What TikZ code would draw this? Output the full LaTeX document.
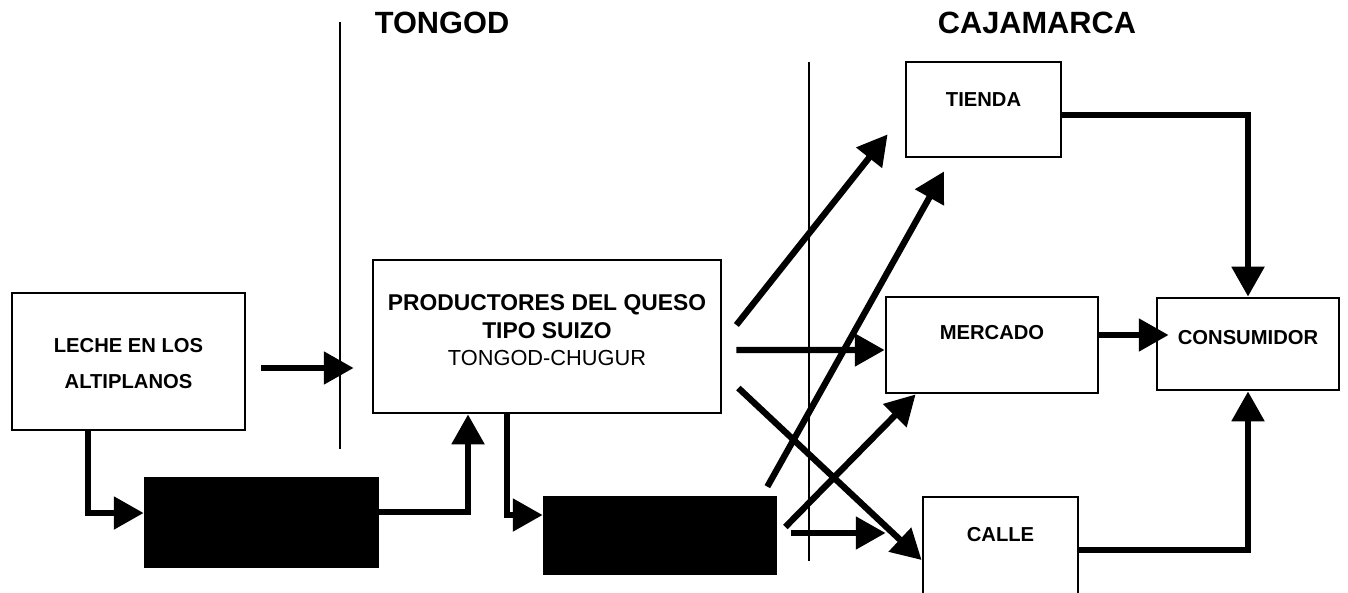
\documentclass[tikz,border=0pt]{standalone}
\usepackage{fontspec}
\setmainfont{Liberation Sans}
\usetikzlibrary{arrows.meta}
\tikzset{
caja/.style={draw,line width=1.6pt,inner sep=0pt},
negro/.style={draw,fill=black,inner sep=0pt},
rotulo/.style={font=\bfseries\fontsize{11.5}{21}\selectfont,align=center,inner sep=0pt},
titulo/.style={font=\bfseries\fontsize{17.5}{20}\selectfont,inner sep=0pt},
flecha/.style={line width=3.6pt,-{Triangle[length=17pt,width=18pt]}},
limite/.style={line width=1.3pt}
}
\begin{document}
\begin{tikzpicture}[x=0.02cm,y=-0.02cm]
\clip(0,0)rectangle(1348,592);
%
\node[titulo](ttongod)at(442,23){TONGOD};
\node[titulo](tcaja)at(1037,23){CAJAMARCA};
\draw[limite](340,22)--(340,449);
\draw[limite](809,62)--(809,561);
%
\node[caja,minimum width=4.66cm,minimum height=2.74cm](leche)at(128.5,361.5){};
\node[rotulo](tleche)at(128.5,363.5){LECHE EN LOS\\ALTIPLANOS};
\node[caja,minimum width=6.96cm,minimum height=3.06cm](prod)at(547,336.5){};
\node[rotulo,font=\bfseries\fontsize{13}{15.6}\selectfont](tprod)at(547,330.5){PRODUCTORES DEL QUESO\\TIPO SUIZO\\\mdseries\fontsize{12.4}{15.6}\selectfont TONGOD-CHUGUR};
\node[negro,minimum width=4.68cm,minimum height=1.8cm](negro1)at(261,522){};
\node[negro,minimum width=4.66cm,minimum height=1.56cm](negro2)at(659.5,535){};
\node[caja,minimum width=3.1cm,minimum height=1.9cm](tienda)at(983.5,109.5){};
\node[rotulo](ttienda)at(983.5,100){TIENDA};
\node[caja,minimum width=4.24cm,minimum height=1.92cm](mercado)at(992,345){};
\node[rotulo](tmercado)at(992,333){MERCADO};
\node[caja,minimum width=3.64cm,minimum height=1.84cm](consumidor)at(1248,344){};
\node[rotulo](tconsumidor)at(1248,338){CONSUMIDOR};
\node[caja,minimum width=3.1cm,minimum height=2.06cm](calle)at(1000.5,548.5){};
\node[rotulo](tcalle)at(1000.5,535){CALLE};
%
\coordinate(l1)at([yshift=-0.13cm]leche.east);
\draw[flecha,shorten <=0.3cm,shorten >=0.36cm](l1)--(l1-|prod.west);
\draw[flecha]([xshift=-0.81cm]leche.south)|-([yshift=0.18cm]negro1.west);
\draw[flecha]([yshift=0.2cm]negro1.east)-|([xshift=-1.58cm]prod.south);
\draw[flecha]([xshift=-0.8cm]prod.south)|-([yshift=0.4cm]negro2.west);
%
\draw[flecha]([shift={(14,-11.5)}]prod.east)--([shift={(-17,-24)}]tienda.south west);
\draw[flecha]([shift={(14,13.5)}]prod.east)--([shift={(0,5)}]mercado.west);
\draw[flecha]([shift={(16,51.5)}]prod.east)--([shift={(0,11.5)}]calle.west);
\draw[flecha]([shift={(-9,-9)}]negro2.north east)--([shift={(-39.5,13)}]tienda.south);
\draw[flecha]([shift={(9,-8)}]negro2.east)--([shift={(31,0)}]mercado.south west);
\draw[flecha]([shift={(15,-2)}]negro2.east)--([shift={(-36,-15.5)}]calle.west);
%
\draw[flecha]([shift={(0,5.5)}]tienda.east)-|(consumidor.north);
\draw[flecha]([shift={(0,-10)}]mercado.east)--([shift={(13,-9)}]consumidor.west);
\draw[flecha]([shift={(0,1.5)}]calle.east)-|(consumidor.south);
\end{tikzpicture}
\end{document}
